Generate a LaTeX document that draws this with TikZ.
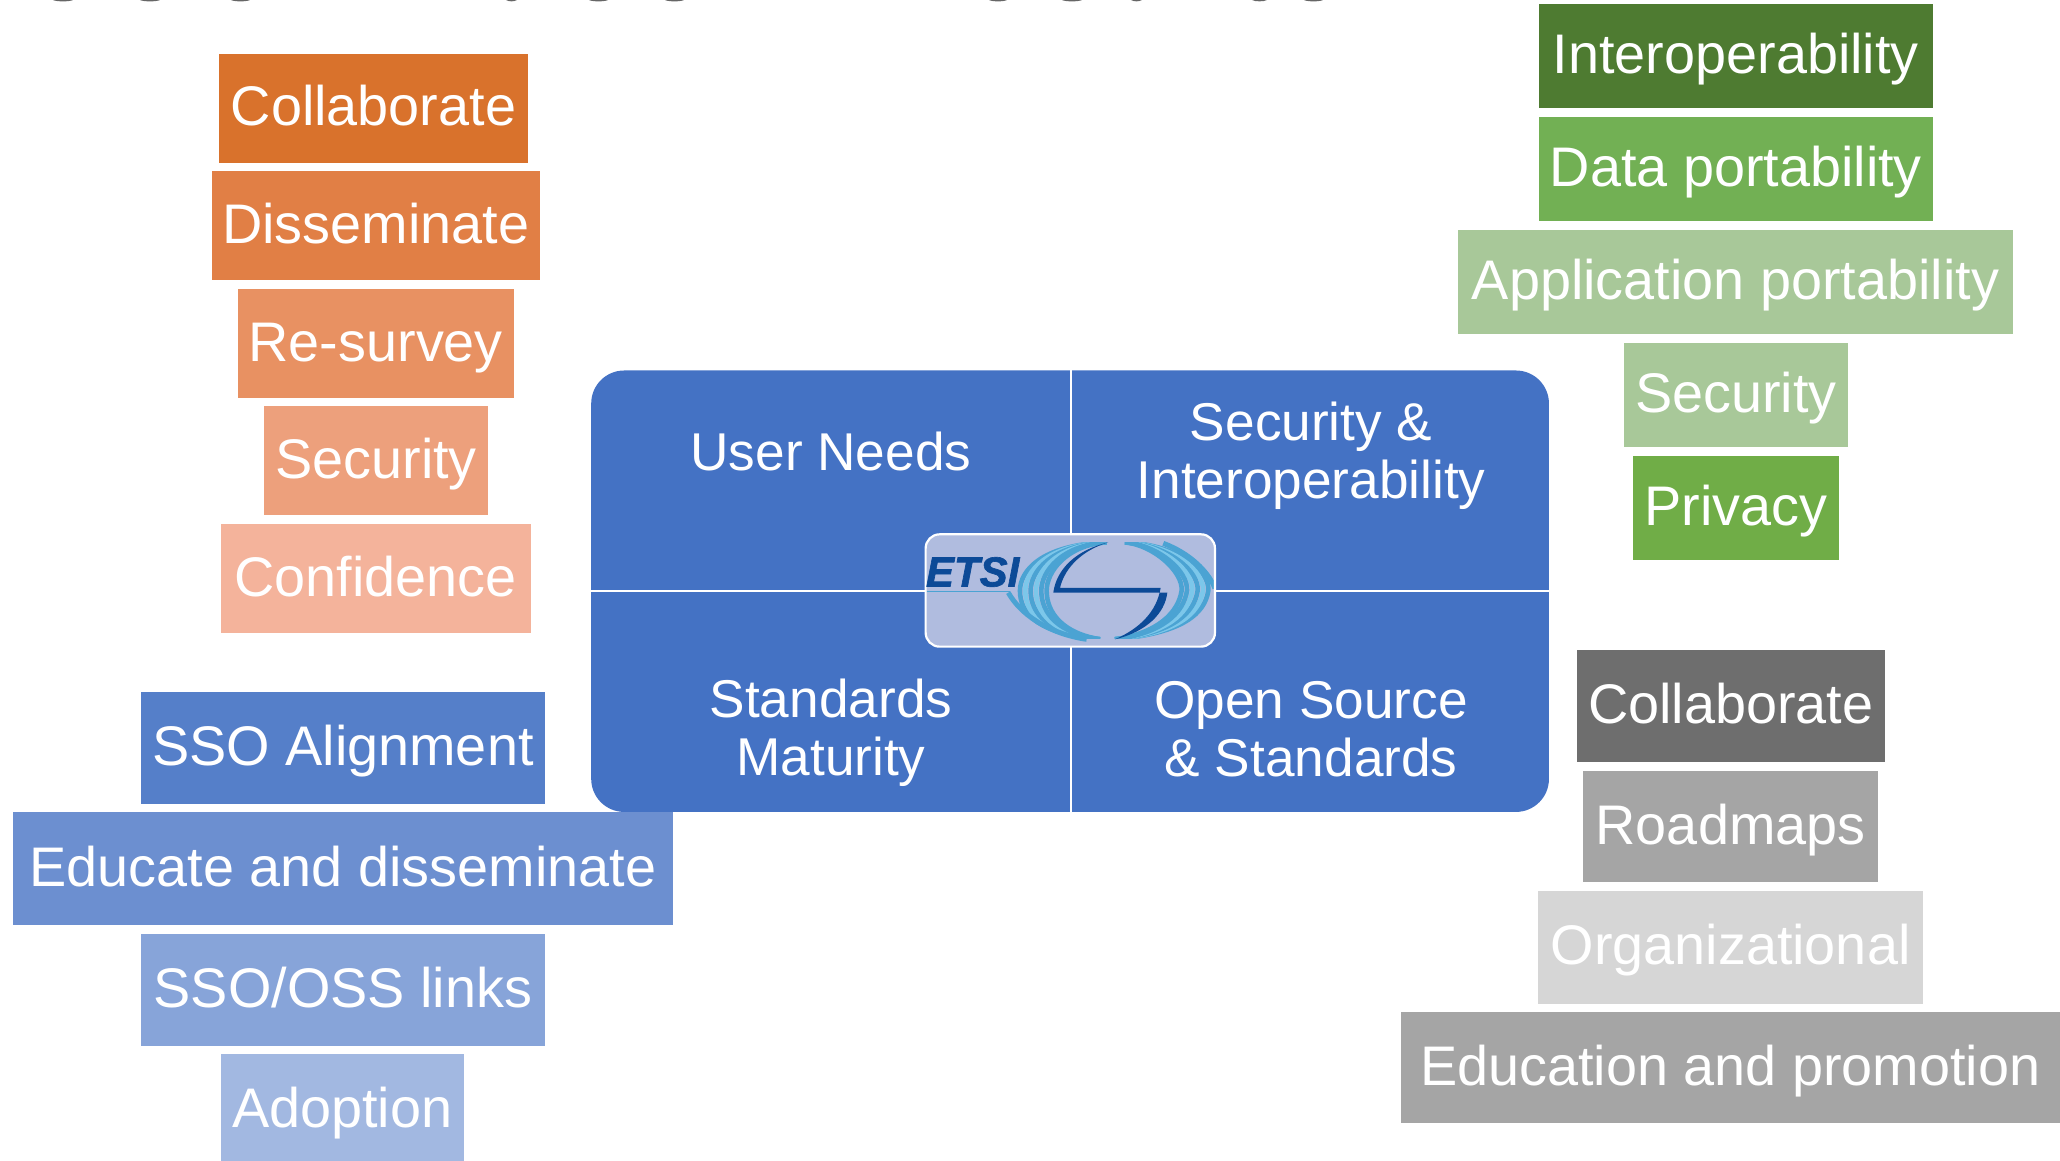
\documentclass[tikz,border=0pt]{standalone}
\usepackage{fontspec}
\setmainfont{Liberation Sans}
\newfontfamily\etsifont[UprightFont={* Bold Italic},FakeBold=1.5]{Liberation Sans}
\definecolor{oa}{HTML}{D9722C}
\definecolor{ob}{HTML}{E17F45}
\definecolor{oc}{HTML}{E89162}
\definecolor{od}{HTML}{EDA07C}
\definecolor{oe}{HTML}{F4B39B}
\definecolor{ba}{HTML}{4472C4}
\definecolor{bz}{HTML}{557FC9}
\definecolor{bb}{HTML}{6C8FD0}
\definecolor{bc}{HTML}{87A4D9}
\definecolor{bd}{HTML}{A2B8E1}
\definecolor{ga}{HTML}{4E7B31}
\definecolor{gb}{HTML}{72B054}
\definecolor{gc}{HTML}{A8C899}
\definecolor{gd}{HTML}{70AD47}
\definecolor{ya}{HTML}{6E6E6E}
\definecolor{yb}{HTML}{A5A5A5}
\definecolor{yc}{HTML}{D6D6D6}
\definecolor{logobg}{HTML}{B0BCDF}
\definecolor{logodark}{HTML}{0C4A97}
\definecolor{arca}{HTML}{4BA3D3}
\definecolor{arcb}{HTML}{7CC7EA}
\definecolor{titlegrey}{HTML}{666666}
\tikzset{
  bar/.style={inner sep=0pt,outer sep=0pt,text=white,text height=45pt,text depth=9.5pt,font=\fontsize{55.8pt}{60pt}\selectfont},
  quad/.style={inner sep=0pt,text=white,align=center,font=\fontsize{53.2pt}{58pt}\selectfont},
  sep/.style={white,line width=2.4pt},
}
% name, x1,y1,x2,y2 (display units), colour, text
\newcommand{\barbox}[7]{%
  \pgfmathsetmacro{\cxx}{(#2+#4)/2}%
  \pgfmathsetmacro{\cyy}{(#3+#5)/2}%
  \pgfmathsetmacro{\wdd}{(#4-#2)*1.3138}%
  \pgfmathsetmacro{\htt}{(#5-#3)*1.3138}%
  \node[bar,fill=#6,minimum width=\wdd pt,minimum height=\htt pt] (#1) at (\cxx,\cyy) {#7};%
}
\begin{document}
\begin{tikzpicture}[x=1.3138pt,y=-1.3138pt]
\useasboundingbox (0,0) rectangle (1568,883.7);
% clipped remains of a title along the top edge (px)
\begin{scope}[x=1pt,y=-1pt]
  \foreach \p/\q in {53/73,140/160,231/250,506/517,589/608,665/684,989/1007,1062/1082,1131/1142,1252/1267,1304/1323}{
    \fill[titlegrey] (\p,0) .. controls ({\p+3},1.8) and ({\q-3},1.8) .. (\q,0) -- cycle;
  }
\end{scope}
% left orange
\barbox{o1}{166.5}{41}{402}{122.5}{oa}{Collaborate}
\fill[oa] (166.5,120) rectangle (402,124);
\barbox{o2}{161}{130}{411}{213}{ob}{Disseminate}
\barbox{o3}{181}{220}{391}{303}{oc}{Re-survey}
\barbox{o4}{201}{309}{371.5}{392}{od}{Security}
\barbox{o5}{168}{399}{404}{482}{oe}{Confidence}
% left blue
\barbox{b1}{107}{526.5}{415}{612}{bz}{SSO Alignment}
\barbox{b2}{10}{618}{512}{704}{bb}{Educate and disseminate}
\barbox{b3}{107}{711}{415}{796}{bc}{SSO/OSS links}
\barbox{b4}{168}{802}{353}{887}{bd}{Adoption}
% right green
\barbox{g1}{1171.5}{3}{1471}{82.5}{ga}{Interoperability}
\barbox{g2}{1171.5}{89}{1471}{168.5}{gb}{Data portability}
\barbox{g3}{1110}{175}{1532}{254.5}{gc}{Application portability}
\barbox{g4}{1236}{261}{1406.5}{340.5}{gc}{Security}
\barbox{g5}{1243}{347}{1399.5}{426.5}{gd}{Privacy}
% right grey
\barbox{y1}{1200}{495}{1435}{580}{ya}{Collaborate}
\barbox{y2}{1205}{587}{1429.5}{671}{yb}{Roadmaps}
\barbox{y3}{1171}{678}{1463.5}{764}{yc}{Organizational}
\barbox{y4}{1066}{770}{1568}{855}{yb}{Education and promotion}
% centre panel
\fill[ba,rounded corners=33pt] (450,282) rectangle (1179,618);
\coordinate (vt) at (815,282);
\coordinate (vb) at (815,618);
\coordinate (hl) at (450,450);
\coordinate (hr) at (1179,450);
\draw[sep] (vt) -- (vb);
\draw[sep] (hl) -- (hr);
\node[quad] (q1) at (632.5,344) {User Needs};
\node[quad] (q2) at (998,347) {Security \&\\Interoperability};
\node[quad] (q3) at (632.5,558) {Standards\\Maturity};
\node[quad] (q4) at (998,555) {Open Source\\\& Standards};
% logo (coordinates: 3 units = 1 px, from 880,500)
\begin{scope}[x=0.33333pt,y=-0.33333pt,shift={(2640,1500)}]
  \fill[logobg,rounded corners=14pt] (137,103) rectangle (1005,440);
  \begin{scope}
    \clip[rounded corners=14pt] (137,103) rectangle (1005,440);
    \foreach \a/\c in {0/arca,16/arcb,32/arca,48/arcb,64/arca,80/arca}{
      \draw[\c,line width=4.6pt]
        (680,127) .. controls ({480+\a},135) and ({420+\a},215) .. ({420+\a},272)
        .. controls ({420+\a},340) and ({470+\a},400) .. (660,418);
      \draw[\c,line width=4.6pt]
        (735,127) .. controls ({900-\a},135) and ({990-\a},215) .. ({985-\a},272)
        .. controls ({975-\a},340) and ({910-\a},400) .. (705,418);
    }
    \fill[logobg] (600,105) rectangle (800,127);
    \fill[logobg] (600,418) rectangle (800,438);
    \draw[arca,line width=5pt] (385,278) .. controls (420,340) and (500,400) .. (620,418);
    \draw[arca,line width=5pt] (850,130) .. controls (930,160) and (985,215) .. (1005,265);
    \fill[logodark] (685,127) .. controls (590,150) and (530,205) .. (520,278)
      -- (862,278) .. controls (855,340) and (800,395) .. (705,418)
      .. controls (780,385) and (830,335) .. (842,264)
      -- (540,264) .. controls (555,200) and (610,150) .. (685,127) -- cycle;
  \end{scope}
  \draw[white,line width=2.2pt,rounded corners=14pt] (137,103) rectangle (1005,440);
  \node[inner sep=0pt,text=logodark,font=\fontsize{42pt}{42pt}\selectfont\etsifont] (etsi) at (278,216) {ETSI};
  \coordinate (ul) at (140,274);
  \coordinate (ur) at (390,274);
  \draw[arca,line width=1pt] (ul) -- (ur);
\end{scope}
\end{tikzpicture}
\end{document}
